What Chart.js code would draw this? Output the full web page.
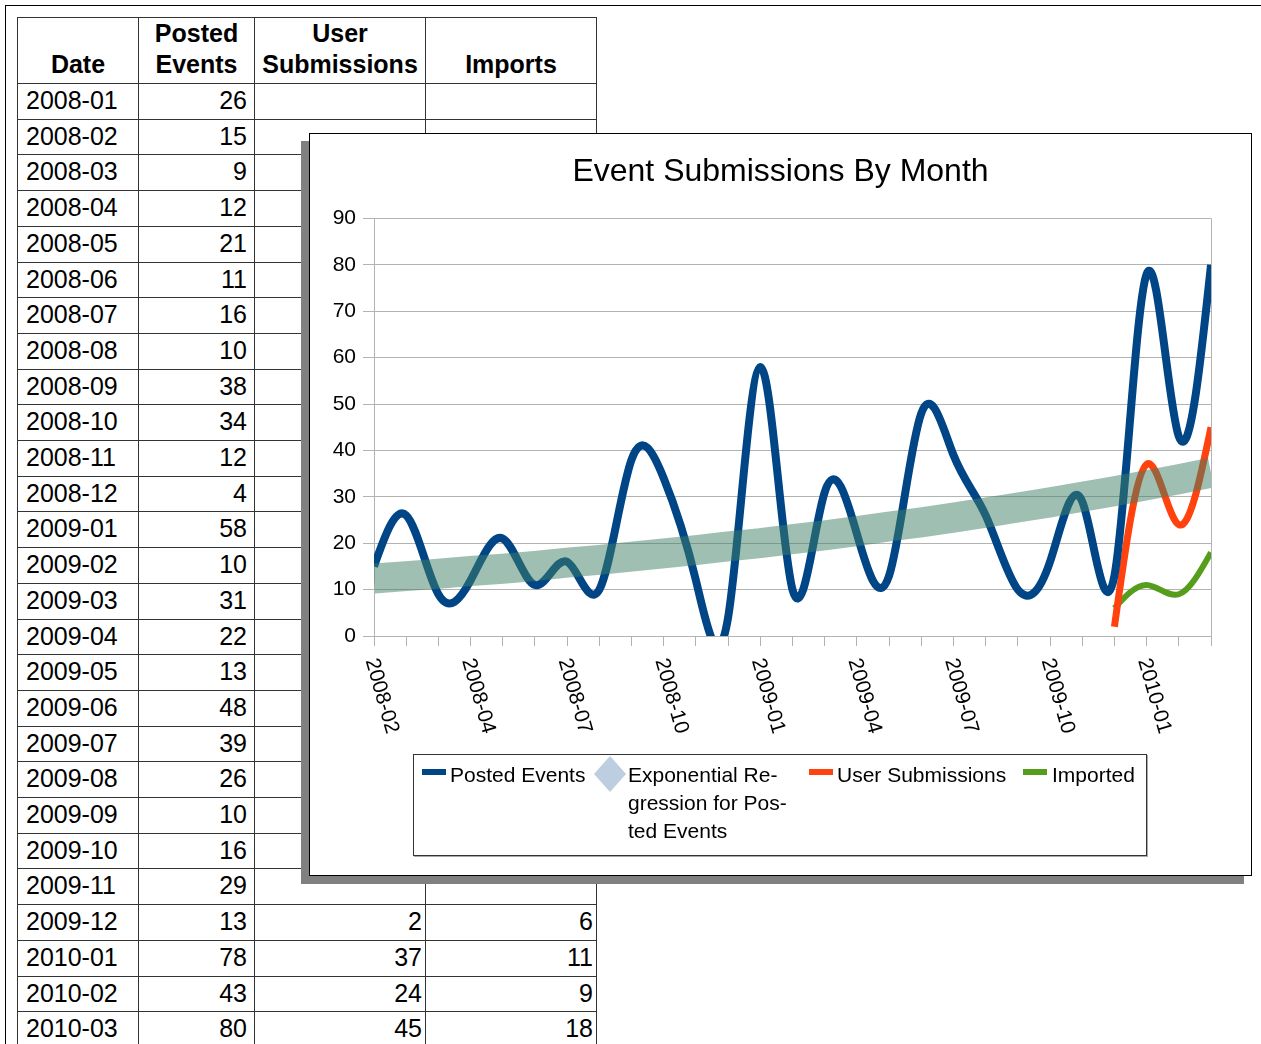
<!DOCTYPE html>
<html>
<head>
<meta charset="utf-8">
<title>Event Submissions By Month</title>
<script src="https://cdn.jsdelivr.net/npm/chart.js@4"></script>
<style>
  body { margin: 0; background: #fff; font-family: "Liberation Sans", Arial, sans-serif; }
  #page { position: relative; width: 1261px; height: 1044px; overflow: hidden; background: #fff; }
  #frame { position: absolute; left: 5px; top: 5px; width: 1300px; height: 1100px; border-left: 1px solid #000; border-top: 1px solid #000; }
  .cell { position: absolute; box-sizing: border-box; border: 1px solid #333; font-size: 25px; color: #000;
          white-space: nowrap; display: flex; align-items: center; padding-bottom: 2px; }
  .head { font-weight: bold; align-items: flex-end; justify-content: center; text-align: center; line-height: 31px; padding-bottom: 3px; }
  .date { padding-left: 8px; }
  .num { justify-content: flex-end; padding-right: 3px; }
  .num.posted { padding-right: 7px; }
  #chartBox { position: absolute; left: 309px; top: 133px; width: 943px; height: 743px; box-sizing: border-box;
              border: 1px solid #000; background: #fff; box-shadow: -8px 8px 0 #808080; }
  #legend { position: absolute; left: 413px; top: 754px; width: 734px; height: 102px; box-sizing: border-box;
            border: 1px solid #333; box-shadow: 1px 1px 0 #aaa; background: #fff; }
  #legend .sym { position: absolute; width: 24px; height: 6px; }
  #legend .txt { position: absolute; top: 6px; font-size: 21px; line-height: 28px; color: #000; white-space: nowrap; }
  #legend svg { position: absolute; left: 179px; top: 0; }
</style>
</head>
<body>
<div id="page">
  <div id="frame"></div>
  <div id="sheet"></div>
  <div id="chartBox"><canvas id="chart" width="941" height="741"></canvas></div>
  <div id="legend">
    <div class="sym" style="left:8px;top:14px;background:#004586"></div>
    <div class="txt" style="left:36px">Posted Events</div>
    <svg width="34" height="38"><polygon points="17,1 33,19 17,37 1,19" fill="#bdcee0"/></svg>
    <div class="txt" style="left:214px">Exponential Re-<br>gression for Pos-<br>ted Events</div>
    <div class="sym" style="left:395px;top:14px;background:#ff420e"></div>
    <div class="txt" style="left:423px">User Submissions</div>
    <div class="sym" style="left:609px;top:14px;background:#579d1c"></div>
    <div class="txt" style="left:638px">Imported</div>
  </div>
</div>

<script>
// spreadsheet columns
const months = ['2008-01','2008-02','2008-03','2008-04','2008-05','2008-06','2008-07','2008-08','2008-09',
  '2008-10','2008-11','2008-12','2009-01','2009-02','2009-03','2009-04','2009-05','2009-06','2009-07',
  '2009-08','2009-09','2009-10','2009-11','2009-12','2010-01','2010-02','2010-03'];
const tablePosted = [26,15,9,12,21,11,16,10,38,34,12,4,58,10,31,22,13,48,39,26,10,16,29,13,78,43,80];
const tableUser = Array(23).fill(null).concat([2,37,24,45]);
const tableImports = Array(23).fill(null).concat([6,11,9,18]);

// series as drawn in the chart
const chartPosted = [15,26,9,12,21,11,16,10,38,34,12,4,58,10,31,22,13,48,39,26,10,16,29,13,78,43,80];
const chartUser = tableUser;
const chartImported = tableImports;
const regression = [12.4,12.9,13.4,14.0,14.5,15.1,15.8,16.4,17.1,17.8,18.5,19.3,20.0,20.9,21.7,
  22.6,23.6,24.5,25.5,26.6,27.7,28.8,30.0,31.2,32.5,33.8,35.2];
const xTickLabels = ['2008-02','','','2008-04','','','2008-07','','','2008-10','','','2009-01','','',
  '2009-04','','','2009-07','','','2009-10','','','2010-01','',''];
const yTicks = [0,10,20,30,40,50,60,70,80,90];

// --- spreadsheet ---
const sheet = document.getElementById('sheet');
const colX = [17, 138, 254, 425, 596];
const rowY = [17, 83];
for (let k = 1; k <= months.length; k++) rowY.push(Math.round(83 + 35.7 * k));

function addCell(c, r, html, cls) {
  const d = document.createElement('div');
  d.className = 'cell ' + cls;
  d.style.left = colX[c] + 'px';
  d.style.top = rowY[r] + 'px';
  d.style.width = (colX[c + 1] - colX[c] + 1) + 'px';
  d.style.height = (rowY[r + 1] - rowY[r] + 1) + 'px';
  d.innerHTML = html;
  sheet.appendChild(d);
}
['Date', 'Posted<br>Events', 'User<br>Submissions', 'Imports'].forEach((h, c) => addCell(c, 0, '<div>' + h + '</div>', 'head'));
months.forEach((m, i) => {
  addCell(0, i + 1, m, 'date');
  addCell(1, i + 1, tablePosted[i], 'num posted');
  addCell(2, i + 1, tableUser[i] == null ? '' : tableUser[i], 'num');
  addCell(3, i + 1, tableImports[i] == null ? '' : tableImports[i], 'num');
});

// --- chart ---
// rotated category labels (text runs downward from the tick, like the original)
const xLabelPlugin = {
  id: 'xLabels',
  afterDraw(chart) {
    const ctx = chart.ctx, xs = chart.scales.x;
    ctx.save();
    ctx.font = '21px "Liberation Sans", Arial, sans-serif';
    ctx.fillStyle = '#000';
    ctx.textAlign = 'left';
    ctx.textBaseline = 'middle';
    xTickLabels.forEach((t, i) => {
      if (!t) return;
      ctx.save();
      ctx.translate(xs.getPixelForValue(i) - 3, xs.top + 23);
      ctx.rotate(74 * Math.PI / 180);
      ctx.fillText(t, 0, 0);
      ctx.restore();
    });
    ctx.restore();
  }
};

// natural cubic spline control points, to get the office-style curve shape
const splinePlugin = {
  id: 'naturalSpline',
  beforeDatasetsDraw(chart) {
    chart.getSortedVisibleDatasetMetas().forEach(meta => {
      if (!meta.dataset || !chart.data.datasets[meta.index].spline) return;
      const pts = meta.data.filter(p => !p.skip);
      const n = pts.length - 1;
      if (n < 1) return;
      const h = pts[1].x - pts[0].x;
      const M = new Array(n + 1).fill(0);
      const b = [], c = [], d = [];
      for (let i = 1; i < n; i++) {
        b.push(4); c.push(1);
        d.push(6 * (pts[i + 1].y - 2 * pts[i].y + pts[i - 1].y) / (h * h));
      }
      const m = d.length;
      for (let i = 1; i < m; i++) { const w = 1 / b[i - 1]; b[i] -= w * c[i - 1]; d[i] -= w * d[i - 1]; }
      for (let i = m - 1; i >= 0; i--) M[i + 1] = (d[i] - (i < m - 1 ? c[i] * M[i + 2] : 0)) / b[i];
      const slope = i => i < n
        ? (pts[i + 1].y - pts[i].y) / h - h * (2 * M[i] + M[i + 1]) / 6
        : (pts[n].y - pts[n - 1].y) / h + h * (M[n - 1] + 2 * M[n]) / 6;
      pts.forEach((p, i) => {
        const s = slope(i);
        p.cp1x = p.x - h / 3; p.cp1y = p.y - s * h / 3;
        p.cp2x = p.x + h / 3; p.cp2y = p.y + s * h / 3;
      });
      meta.dataset._pointsUpdated = true;
      meta.dataset._path = undefined;
    });
  }
};

const grid = '#b3b3b3';
const font = '"Liberation Sans", Arial, sans-serif';
new Chart(document.getElementById('chart'), {
  type: 'line',
  data: {
    labels: months,
    datasets: [
      { label: 'Exponential Regression for Posted Events', data: regression, borderColor: 'rgba(64,127,101,0.5)',
        borderWidth: 30, tension: 0, borderCapStyle: 'butt', order: 0 },
      { label: 'Posted Events', data: chartPosted, borderColor: '#004586', borderWidth: 8, tension: 0.4, spline: true, order: 1 },
      { label: 'User Submissions', data: chartUser, borderColor: '#ff420e', borderWidth: 7, tension: 0.4, spline: true, order: 2 },
      { label: 'Imported', data: chartImported, borderColor: '#579d1c', borderWidth: 6, tension: 0.4, spline: true, order: 3 }
    ]
  },
  options: {
    responsive: false,
    animation: false,
    clip: 0,
    layout: { padding: { left: 0, right: 0, top: 0, bottom: 229 } },
    elements: { point: { radius: 0 }, line: { capBezierPoints: false } },
    plugins: {
      legend: { display: false },
      tooltip: { enabled: false },
      title: {
        display: true, text: 'Event Submissions By Month', color: '#000',
        font: { family: font, size: 32, weight: 'normal' },
        padding: { top: 19, bottom: 27 }
      }
    },
    scales: {
      x: {
        offset: false,
        grid: { color: c => c.index === months.length - 1 ? grid : 'rgba(0,0,0,0)', tickColor: grid, tickLength: 10 },
        border: { color: grid },
        ticks: { display: false, autoSkip: false },
        afterFit: s => { s.height = 10; }
      },
      y: {
        min: 0, max: 90,
        afterBuildTicks: s => { s.ticks = yTicks.map(v => ({ value: v })); },
        ticks: { color: '#000', padding: 7, font: { family: font, size: 21 } },
        grid: { color: grid, tickLength: 11 },
        border: { color: grid },
        afterFit: s => { s.width = 64; }
      },
      yRight: {
        position: 'right', display: true,
        grid: { display: false }, border: { display: false }, ticks: { display: false },
        afterFit: s => { s.width = 40; }
      }
    }
  },
  plugins: [xLabelPlugin, splinePlugin]
});
</script>
</body>
</html>
